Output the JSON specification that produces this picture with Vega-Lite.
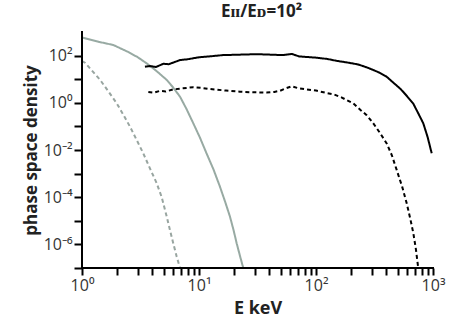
{
  "$schema": "https://vega.github.io/schema/vega-lite/v6.json",
  "width": 351,
  "height": 236,
  "autosize": "none",
  "padding": {"left": 82, "top": 32, "right": 16, "bottom": 63},
  "background": "white",
  "title": {"text": "Eɪɪ/Eᴅ=10²", "font": "Open Sans", "fontSize": 17, "fontWeight": "bold", "color": "#222", "offset": 10, "anchor": "middle", "dx": 4},
  "config": {"view": {"stroke": null}},
  "layer": [
    {
      "data": {"values": [
        {"s": "gs", "E": 1, "f": 580}, {"s": "gs", "E": 1.06, "f": 540}, {"s": "gs", "E": 1.4, "f": 380}, {"s": "gs", "E": 1.85, "f": 282},
        {"s": "gs", "E": 2.5, "f": 140}, {"s": "gs", "E": 3.0, "f": 85}, {"s": "gs", "E": 3.57, "f": 47}, {"s": "gs", "E": 4.3, "f": 23},
        {"s": "gs", "E": 5.3, "f": 9.3}, {"s": "gs", "E": 6.0, "f": 4.5}, {"s": "gs", "E": 6.88, "f": 1.82}, {"s": "gs", "E": 7.8, "f": 0.56},
        {"s": "gs", "E": 8.94, "f": 0.135}, {"s": "gs", "E": 10.2, "f": 0.033}, {"s": "gs", "E": 11.6, "f": 0.0072}, {"s": "gs", "E": 13.3, "f": 0.0015},
        {"s": "gs", "E": 15.1, "f": 0.00028}, {"s": "gs", "E": 16.8, "f": 0.00006}, {"s": "gs", "E": 18.4, "f": 0.000015}, {"s": "gs", "E": 19.8, "f": 0.0000038},
        {"s": "gs", "E": 21.0, "f": 0.0000011}, {"s": "gs", "E": 22.5, "f": 0.0000003}, {"s": "gs", "E": 23.9, "f": 0.0000001},

        {"s": "gd", "E": 1, "f": 59}, {"s": "gd", "E": 1.06, "f": 50}, {"s": "gd", "E": 1.2, "f": 25}, {"s": "gd", "E": 1.43, "f": 9.3},
        {"s": "gd", "E": 1.7, "f": 2.8}, {"s": "gd", "E": 1.98, "f": 0.95}, {"s": "gd", "E": 2.25, "f": 0.32}, {"s": "gd", "E": 2.57, "f": 0.098},
        {"s": "gd", "E": 2.95, "f": 0.025}, {"s": "gd", "E": 3.34, "f": 0.0072}, {"s": "gd", "E": 3.8, "f": 0.0017}, {"s": "gd", "E": 4.35, "f": 0.00039},
        {"s": "gd", "E": 4.8, "f": 0.0001}, {"s": "gd", "E": 5.3, "f": 0.000015}, {"s": "gd", "E": 5.65, "f": 0.000004}, {"s": "gd", "E": 6.03, "f": 0.0000011},
        {"s": "gd", "E": 6.45, "f": 0.0000003}, {"s": "gd", "E": 6.88, "f": 0.0000001},

        {"s": "bs", "E": 3.45, "f": 34}, {"s": "bs", "E": 3.8, "f": 36}, {"s": "bs", "E": 4.3, "f": 33}, {"s": "bs", "E": 4.95, "f": 45},
        {"s": "bs", "E": 5.5, "f": 43}, {"s": "bs", "E": 6.9, "f": 65}, {"s": "bs", "E": 8, "f": 70}, {"s": "bs", "E": 10, "f": 85},
        {"s": "bs", "E": 13, "f": 95}, {"s": "bs", "E": 16, "f": 105}, {"s": "bs", "E": 20, "f": 108}, {"s": "bs", "E": 31, "f": 115},
        {"s": "bs", "E": 40, "f": 110}, {"s": "bs", "E": 52, "f": 105}, {"s": "bs", "E": 62, "f": 118}, {"s": "bs", "E": 72, "f": 92},
        {"s": "bs", "E": 100, "f": 82}, {"s": "bs", "E": 125, "f": 72}, {"s": "bs", "E": 150, "f": 60}, {"s": "bs", "E": 190, "f": 50},
        {"s": "bs", "E": 230, "f": 42}, {"s": "bs", "E": 280, "f": 30}, {"s": "bs", "E": 340, "f": 20}, {"s": "bs", "E": 400, "f": 13},
        {"s": "bs", "E": 460, "f": 7}, {"s": "bs", "E": 530, "f": 3.8}, {"s": "bs", "E": 600, "f": 1.9}, {"s": "bs", "E": 680, "f": 0.9},
        {"s": "bs", "E": 750, "f": 0.35}, {"s": "bs", "E": 826, "f": 0.135}, {"s": "bs", "E": 900, "f": 0.035}, {"s": "bs", "E": 975, "f": 0.0072},

        {"s": "bd", "E": 3.69, "f": 2.9}, {"s": "bd", "E": 4.1, "f": 2.7}, {"s": "bd", "E": 4.64, "f": 3.2}, {"s": "bd", "E": 5.2, "f": 3.0},
        {"s": "bd", "E": 6.03, "f": 3.7}, {"s": "bd", "E": 7.3, "f": 4.1}, {"s": "bd", "E": 8.94, "f": 4.6}, {"s": "bd", "E": 10.5, "f": 4.3},
        {"s": "bd", "E": 12, "f": 3.9}, {"s": "bd", "E": 14.2, "f": 3.6}, {"s": "bd", "E": 17, "f": 3.3}, {"s": "bd", "E": 22.4, "f": 2.95},
        {"s": "bd", "E": 28, "f": 2.8}, {"s": "bd", "E": 37.9, "f": 2.7}, {"s": "bd", "E": 44, "f": 2.9}, {"s": "bd", "E": 49, "f": 3.2},
        {"s": "bd", "E": 56, "f": 4.2}, {"s": "bd", "E": 62, "f": 5.0}, {"s": "bd", "E": 70, "f": 4.2}, {"s": "bd", "E": 83, "f": 3.7},
        {"s": "bd", "E": 100, "f": 3.3}, {"s": "bd", "E": 123, "f": 2.6}, {"s": "bd", "E": 141, "f": 2.3}, {"s": "bd", "E": 165, "f": 1.7},
        {"s": "bd", "E": 183, "f": 1.3}, {"s": "bd", "E": 208, "f": 0.95}, {"s": "bd", "E": 240, "f": 0.5}, {"s": "bd", "E": 271, "f": 0.3},
        {"s": "bd", "E": 309, "f": 0.135}, {"s": "bd", "E": 350, "f": 0.055}, {"s": "bd", "E": 402, "f": 0.019}, {"s": "bd", "E": 445, "f": 0.006},
        {"s": "bd", "E": 490, "f": 0.0014}, {"s": "bd", "E": 545, "f": 0.00028}, {"s": "bd", "E": 596, "f": 0.000055}, {"s": "bd", "E": 640, "f": 0.000012},
        {"s": "bd", "E": 679, "f": 0.000003}, {"s": "bd", "E": 715, "f": 0.0000006}, {"s": "bd", "E": 748, "f": 0.0000001}
      ]},
      "mark": {"type": "line", "clip": true, "strokeCap": "butt"},
      "encoding": {
        "x": {"field": "E", "type": "quantitative",
          "scale": {"type": "log", "domain": [1, 1000], "nice": false},
          "axis": {"title": "E keV", "titleFont": "Open Sans", "titleFontSize": 18, "titleFontWeight": "bold", "titleColor": "#222", "titlePadding": 6,
            "values": [1,2,3,4,5,6,7,8,9,10,20,30,40,50,60,70,80,90,100,200,300,400,500,600,700,800,900,1000],
            "labelExpr": "datum.value == 1 ? '10⁰' : datum.value == 10 ? '10¹' : datum.value == 100 ? '10²' : datum.value == 1000 ? '10³' : ''",
            "labelFont": "Open Sans", "labelFontSize": 16, "labelColor": "#333", "labelPadding": 2, "labelFlush": false, "labelOverlap": false,
            "grid": false, "tickColor": "black", "tickWidth": 2, "tickSize": 7}},
        "y": {"field": "f", "type": "quantitative",
          "scale": {"type": "log", "domain": [0.0000001, 1000], "nice": false},
          "axis": {"title": "phase space density", "titleFont": "Open Sans", "titleFontSize": 17, "titleFontWeight": "bold", "titleColor": "#222", "titlePadding": 3,
            "values": [0.0000001, 0.000001, 0.00001, 0.0001, 0.001, 0.01, 0.1, 1, 10, 100],
            "labelExpr": "round(log(datum.value)/LN10) == 2 ? '10²' : round(log(datum.value)/LN10) == 0 ? '10⁰' : round(log(datum.value)/LN10) == -2 ? '10⁻²' : round(log(datum.value)/LN10) == -4 ? '10⁻⁴' : round(log(datum.value)/LN10) == -6 ? '10⁻⁶' : ''",
            "labelFont": "Open Sans", "labelFontSize": 16, "labelColor": "#333", "labelPadding": 2, "labelFlush": false, "labelOverlap": false,
            "grid": false, "tickColor": "black", "tickWidth": 2, "tickSize": 8}},
        "color": {"field": "s", "type": "nominal", "legend": null,
          "scale": {"domain": ["gs", "gd", "bs", "bd"], "range": ["#98aaa3", "#98a5a0", "#000000", "#000000"]}},
        "strokeDash": {"field": "s", "type": "nominal", "legend": null,
          "scale": {"domain": ["gs", "gd", "bs", "bd"], "range": [[1, 0], [4, 3], [1, 0], [4, 3]]}},
        "strokeWidth": {"field": "s", "type": "nominal", "legend": null,
          "scale": {"domain": ["gs", "gd", "bs", "bd"], "range": [2, 2, 2.5, 2.8]}}
      }
    },
    {
      "data": {"values": [{"axis": "x"}]},
      "mark": {"type": "rule", "color": "#000000", "strokeWidth": 2, "strokeCap": "square", "clip": false},
      "encoding": {"x": {"datum": 1}, "x2": {"datum": 1000}, "y": {"datum": 0.0000001}}
    },
    {
      "data": {"values": [{"axis": "y"}]},
      "mark": {"type": "rule", "color": "#000000", "strokeWidth": 2, "strokeCap": "square", "clip": false},
      "encoding": {"x": {"datum": 1}, "y": {"datum": 0.0000001}, "y2": {"datum": 1000}}
    }
  ]
}
